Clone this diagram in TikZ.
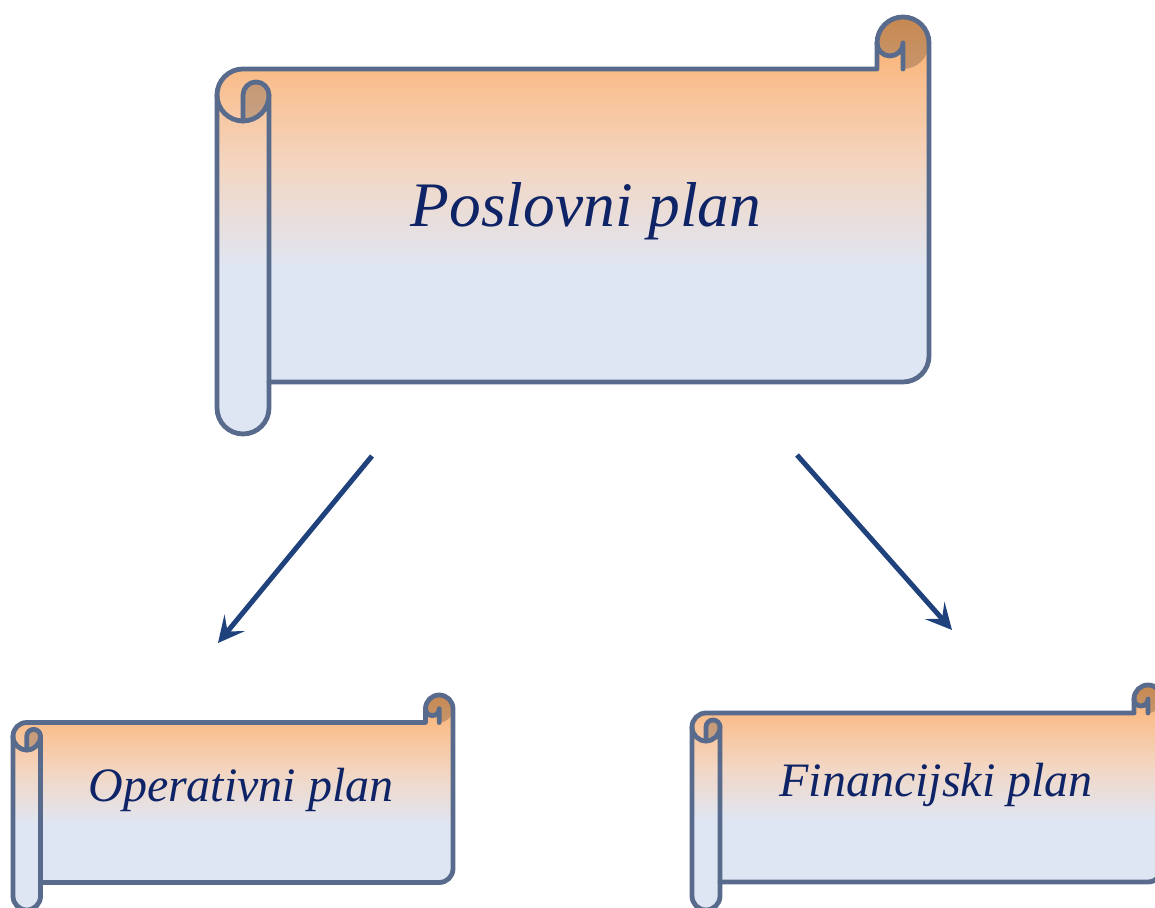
\documentclass[tikz,border=0pt]{standalone}
\usepackage{fontspec}
\setmainfont{Liberation Serif}
\usetikzlibrary{arrows.meta}
\definecolor{scrollline}{RGB}{88,107,140}
\definecolor{gA}{RGB}{249,170,100}
\definecolor{gB}{RGB}{249,192,145}
\definecolor{gC}{RGB}{243,214,194}
\definecolor{gD}{RGB}{223,230,243}
\definecolor{textcol}{RGB}{14,36,102}
\definecolor{arrowcol}{RGB}{31,66,124}
\tikzset{
  scrollstroke/.style={draw=scrollline, line width=2.4pt, line join=round, line cap=round},
  curldark/.style={fill=black, fill opacity=0.2},
  bigtext/.style={text=textcol, inner sep=0pt, anchor=base, font=\fontsize{31.7}{36}\selectfont\itshape},
  smalltext/.style={text=textcol, inner sep=0pt, anchor=base, font=\fontsize{24}{28}\selectfont\itshape},
  flowarrow/.style={draw=arrowcol, line width=2.5pt, -{Stealth[length=13pt, width=13pt, inset=5.5pt]}}
}
% #1 L, #2 B, #3 R, #4 T, #5 curl size
\newcommand\scrollshape[5]{%
  \pgfmathsetmacro\sL{#1}\pgfmathsetmacro\sB{#2}%
  \pgfmathsetmacro\sR{#3}\pgfmathsetmacro\sT{#4}%
  \pgfmathsetmacro\sc{#5}\pgfmathsetmacro\sh{#5/2}\pgfmathsetmacro\sq{#5/4}%
  \pgfmathsetmacro\sH{#4-#2}%
  \pgfmathsetmacro\fa{\sT-0.16*\sH}%
  \pgfmathsetmacro\fb{\sT-0.36*\sH}%
  \pgfmathsetmacro\fc{\sT-0.60*\sH}%
  \begin{scope}
    \clip (\sL,\sT-\sc-\sh) arc[start angle=180,end angle=90,radius=\sh]
      -- (\sR-\sc,\sT-\sc) -- (\sR-\sc,\sT-\sh)
      arc[start angle=180,end angle=0,radius=\sh]
      -- (\sR,\sB+\sc+\sh) arc[start angle=0,end angle=-90,radius=\sh]
      -- (\sL+\sc,\sB+\sc) -- (\sL+\sc,\sB+\sh)
      arc[start angle=0,end angle=-180,radius=\sh] -- cycle;
    \fill[gD] (\sL-2,\sB-2) rectangle (\sR+2,\fc+1);
    \shade[top color=gC, bottom color=gD] (\sL-2,\fc) rectangle (\sR+2,\fb+1);
    \shade[top color=gB, bottom color=gC] (\sL-2,\fb) rectangle (\sR+2,\fa+1);
    \shade[top color=gA, bottom color=gB] (\sL-2,\fa) rectangle (\sR+2,\sT+2);
    \path[curldark] (\sR-\sc,\sT-\sh) arc[start angle=180,end angle=0,radius=\sh]
      arc[start angle=0,end angle=-90,radius=\sh] -- (\sR-\sh,\sT-\sh)
      arc[start angle=0,end angle=-180,radius=\sq] -- cycle;
    \path[curldark] (\sL+\sh,\sT-\sc-\sh) arc[start angle=180,end angle=0,radius=\sq]
      arc[start angle=0,end angle=-90,radius=\sh] -- cycle;
  \end{scope}
  \path[scrollstroke] (\sL,\sT-\sc-\sh) arc[start angle=180,end angle=90,radius=\sh]
      -- (\sR-\sc,\sT-\sc) -- (\sR-\sc,\sT-\sh)
      arc[start angle=180,end angle=0,radius=\sh]
      -- (\sR,\sB+\sc+\sh) arc[start angle=0,end angle=-90,radius=\sh]
      -- (\sL+\sc,\sB+\sc) -- (\sL+\sc,\sB+\sh)
      arc[start angle=0,end angle=-180,radius=\sh] -- cycle;
  \path[scrollstroke] (\sL,\sT-\sc-\sh) arc[start angle=180,end angle=360,radius=\sh]
      -- (\sL+\sc,\sB+\sc);
  \path[scrollstroke] (\sL+\sh,\sT-2*\sc) -- (\sL+\sh,\sT-\sc-\sh)
      arc[start angle=180,end angle=0,radius=\sq];
  \path[scrollstroke] (\sR-\sc,\sT-\sh) arc[start angle=180,end angle=360,radius=\sq]
      -- (\sR-\sh,\sT-\sc);
}
\begin{document}
\begin{tikzpicture}[x=0.5pt, y=0.5pt]
  \useasboundingbox (0,0) rectangle (1155,908);
  % scrolls
  \scrollshape{217}{474}{929}{891}{52}
  \scrollshape{13}{-2}{453}{213}{27.5}
  \scrollshape{692}{-2}{1162}{223}{28}
  % texts
  \node[bigtext] (poslovni) at (586,681) {Poslovni plan};
  \node[smalltext] (operativni) at (241,106) {Operativni plan};
  \node[smalltext] (financijski) at (936,111) {Financijski plan};
  % connectors
  \coordinate (a1s) at (372,452);
  \coordinate (a1e) at (218,265);
  \coordinate (a2s) at (797,453);
  \coordinate (a2e) at (952,278);
  \draw[flowarrow] (a1s) -- (a1e);
  \draw[flowarrow] (a2s) -- (a2e);
\end{tikzpicture}
\end{document}
